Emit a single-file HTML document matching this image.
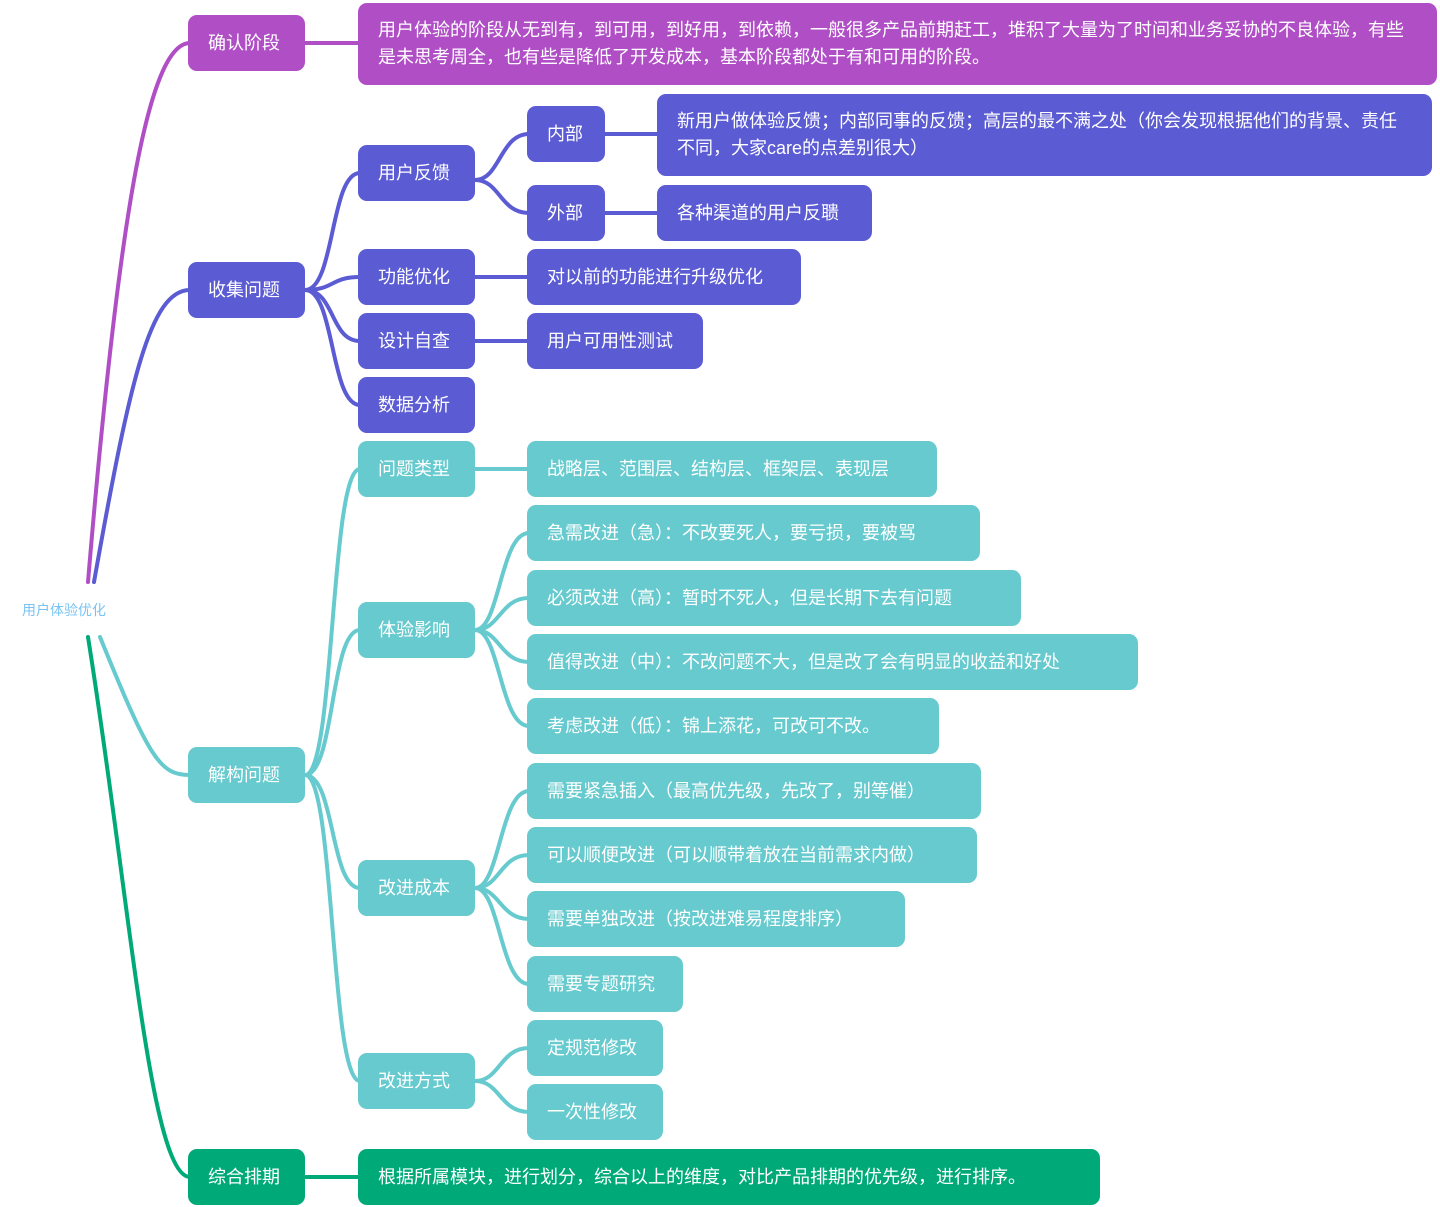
<!DOCTYPE html>
<html><head><meta charset="utf-8"><style>
body{margin:0;width:1440px;height:1207px;background:#fff;position:relative;overflow:hidden;font-family:"Liberation Sans","Noto Sans CJK SC",sans-serif;}
.n{position:absolute;box-sizing:border-box;border-radius:9px;color:#fff;font-size:18px;line-height:27px;padding:0 20px;display:flex;align-items:center;white-space:nowrap;}
.m{white-space:normal;align-items:center;}
.p{background:#B04EC6}.b{background:#5B5BD3}.t{background:#66CACE}.g{background:#00AA78}
svg{position:absolute;left:0;top:0}
</style></head><body>
<svg width="1440" height="1207" fill="none" stroke-width="4" stroke-linecap="round">
<path d="M88,582 C120,200 150,43 190,43" stroke="#B04EC6"/>
<path d="M94,582 C130,380 150,290 190,290" stroke="#5B5BD3"/>
<path d="M100,637 C150,760 160,775 190,775" stroke="#66CACE"/>
<path d="M88,637 C130,900 150,1177 190,1177" stroke="#00AA78"/>
<path d="M305,43 H360" stroke="#B04EC6"/>
<path d="M305,1177 H360" stroke="#00AA78"/>
<g stroke="#5B5BD3">
<path d="M305,290 C335,290 330,173 360,173"/>
<path d="M305,290 C335,290 330,277 360,277"/>
<path d="M305,290 C335,290 330,341 360,341"/>
<path d="M305,290 C335,290 330,405 360,405"/>
<path d="M475,180 C500,180 500,134 529,134"/>
<path d="M475,180 C500,180 500,213 529,213"/>
<path d="M605,134 H659"/><path d="M605,213 H659"/>
<path d="M475,277 H529"/><path d="M475,341 H529"/>
</g>
<g stroke="#66CACE">
<path d="M305,775 C335,775 330,469 360,469"/>
<path d="M305,775 C335,775 330,630 360,630"/>
<path d="M305,775 C335,775 330,888 360,888"/>
<path d="M305,775 C335,775 330,1081 360,1081"/>
<path d="M475,469 H529"/>
<path d="M475,630 C500,630 500,533 529,533"/>
<path d="M475,630 C500,630 500,598 529,598"/>
<path d="M475,630 C500,630 500,662 529,662"/>
<path d="M475,630 C500,630 500,726 529,726"/>
<path d="M475,888 C500,888 500,791 529,791"/>
<path d="M475,888 C500,888 500,855 529,855"/>
<path d="M475,888 C500,888 500,919 529,919"/>
<path d="M475,888 C500,888 500,984 529,984"/>
<path d="M475,1081 C500,1081 500,1048 529,1048"/>
<path d="M475,1081 C500,1081 500,1112 529,1112"/>
</g>
</svg>
<div style="position:absolute;left:22px;top:600px;font-size:14px;color:#79C3F2;">用户体验优化</div>

<div class="n p" style="left:188px;top:15px;width:117px;height:56px">确认阶段</div>
<div class="n p m" style="left:358px;top:3px;width:1079px;height:82px">用户体验的阶段从无到有，到可用，到好用，到依赖，一般很多产品前期赶工，堆积了大量为了时间和业务妥协的不良体验，有些是未思考周全，也有些是降低了开发成本，基本阶段都处于有和可用的阶段。</div>

<div class="n b" style="left:188px;top:262px;width:117px;height:56px">收集问题</div>
<div class="n b" style="left:358px;top:145px;width:117px;height:56px">用户反馈</div>
<div class="n b" style="left:358px;top:249px;width:117px;height:56px">功能优化</div>
<div class="n b" style="left:358px;top:313px;width:117px;height:56px">设计自查</div>
<div class="n b" style="left:358px;top:377px;width:117px;height:56px">数据分析</div>
<div class="n b" style="left:527px;top:106px;width:78px;height:56px">内部</div>
<div class="n b" style="left:527px;top:185px;width:78px;height:56px">外部</div>
<div class="n b m" style="left:657px;top:94px;width:775px;height:82px">新用户做体验反馈；内部同事的反馈；高层的最不满之处（你会发现根据他们的背景、责任不同，大家care的点差别很大）</div>
<div class="n b" style="left:657px;top:185px;width:215px;height:56px">各种渠道的用户反聩</div>
<div class="n b" style="left:527px;top:249px;width:274px;height:56px">对以前的功能进行升级优化</div>
<div class="n b" style="left:527px;top:313px;width:176px;height:56px">用户可用性测试</div>

<div class="n t" style="left:188px;top:747px;width:117px;height:56px">解构问题</div>
<div class="n t" style="left:358px;top:441px;width:117px;height:56px">问题类型</div>
<div class="n t" style="left:358px;top:602px;width:117px;height:56px">体验影响</div>
<div class="n t" style="left:358px;top:860px;width:117px;height:56px">改进成本</div>
<div class="n t" style="left:358px;top:1053px;width:117px;height:56px">改进方式</div>
<div class="n t" style="left:527px;top:441px;width:410px;height:56px">战略层、范围层、结构层、框架层、表现层</div>
<div class="n t" style="left:527px;top:505px;width:453px;height:56px">急需改进（急）：不改要死人，要亏损，要被骂</div>
<div class="n t" style="left:527px;top:570px;width:494px;height:56px">必须改进（高）：暂时不死人，但是长期下去有问题</div>
<div class="n t" style="left:527px;top:634px;width:611px;height:56px">值得改进（中）：不改问题不大，但是改了会有明显的收益和好处</div>
<div class="n t" style="left:527px;top:698px;width:412px;height:56px">考虑改进（低）：锦上添花，可改可不改。</div>
<div class="n t" style="left:527px;top:763px;width:454px;height:56px">需要紧急插入（最高优先级，先改了，别等催）</div>
<div class="n t" style="left:527px;top:827px;width:450px;height:56px">可以顺便改进（可以顺带着放在当前需求内做）</div>
<div class="n t" style="left:527px;top:891px;width:378px;height:56px">需要单独改进（按改进难易程度排序）</div>
<div class="n t" style="left:527px;top:956px;width:156px;height:56px">需要专题研究</div>
<div class="n t" style="left:527px;top:1020px;width:136px;height:56px">定规范修改</div>
<div class="n t" style="left:527px;top:1084px;width:136px;height:56px">一次性修改</div>

<div class="n g" style="left:188px;top:1149px;width:117px;height:56px">综合排期</div>
<div class="n g" style="left:358px;top:1149px;width:742px;height:56px">根据所属模块，进行划分，综合以上的维度，对比产品排期的优先级，进行排序。</div>
</body></html>
